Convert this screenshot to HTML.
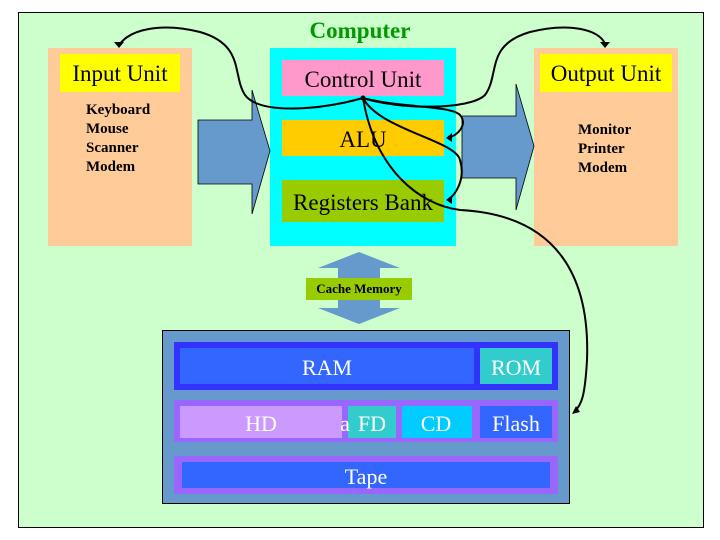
<!DOCTYPE html>
<html><head><meta charset="utf-8"><style>
body{margin:0;width:720px;height:540px;background:#fff;overflow:hidden}
svg{display:block}
text{font-family:"Liberation Serif",serif}
</style></head><body>
<svg width="720" height="540" xmlns="http://www.w3.org/2000/svg">
<rect x="18.5" y="12.5" width="685" height="515" fill="#ccffcc" stroke="#000"/>
<text x="360" y="38" font-size="23" font-weight="bold" fill="#009900" text-anchor="middle">Computer</text>
<rect x="48" y="48" width="144" height="198" fill="#ffcc99"/>
<rect x="60" y="54" width="120" height="38" fill="#ffff00"/>
<text x="120" y="81" font-size="23" text-anchor="middle">Input Unit</text>
<g font-size="15" font-weight="bold"><text x="86" y="114">Keyboard</text><text x="86" y="133">Mouse</text><text x="86" y="152">Scanner</text><text x="86" y="171">Modem</text></g>
<rect x="534" y="48" width="144" height="198" fill="#ffcc99"/>
<rect x="540" y="54" width="132" height="38" fill="#ffff00"/>
<text x="606" y="81" font-size="23" text-anchor="middle">Output Unit</text>
<g font-size="15" font-weight="bold"><text x="578" y="134">Monitor</text><text x="578" y="153">Printer</text><text x="578" y="172">Modem</text></g>
<rect x="270" y="48" width="186" height="198" fill="#00ffff"/>
<rect x="282" y="60" width="162" height="36" fill="#ff99cc"/>
<text x="363" y="87" font-size="23" text-anchor="middle">Control Unit</text>
<rect x="282" y="120" width="162" height="36" fill="#ffcc00"/>
<text x="363" y="147" font-size="23" text-anchor="middle">ALU</text>
<rect x="282" y="180" width="162" height="42" fill="#99cc00"/>
<text x="363" y="210" font-size="23" text-anchor="middle">Registers Bank</text>
<polygon points="198,120 252,120 252,90 270,151 252,214 252,184 198,184" fill="#6699cc" stroke="#000" stroke-width="0.8"/>
<polygon points="462,116 516,116 516,84 534,146 516,210 516,178 462,178" fill="#6699cc" stroke="#000" stroke-width="0.8"/>
<polygon points="359,252 400,268 380,268 380,308 400,308 359,324 318,308 338,308 338,268 318,268" fill="#6699cc"/>
<rect x="306" y="278" width="106" height="22" fill="#99cc00"/>
<text x="359" y="293" font-size="13" font-weight="bold" text-anchor="middle">Cache Memory</text>
<rect x="162.5" y="330.5" width="407" height="173" fill="#6699cc" stroke="#000"/>
<rect x="174" y="342" width="384" height="48" fill="#3333ff"/>
<rect x="180" y="348" width="294" height="36" fill="#3366ff"/>
<rect x="480" y="348" width="72" height="36" fill="#33cccc"/>
<rect x="174" y="400" width="384" height="42" fill="#9966ff"/>
<rect x="180" y="406" width="162" height="32" fill="#cc99ff"/>
<rect x="348" y="406" width="48" height="32" fill="#33cccc"/>
<rect x="402" y="406" width="70" height="32" fill="#00ccff"/>
<rect x="480" y="406" width="72" height="32" fill="#3366ff"/>
<rect x="174" y="456" width="384" height="38" fill="#9966ff"/>
<rect x="182" y="462" width="368" height="26" fill="#3366ff"/>
<g font-size="22" fill="#fff" text-anchor="middle">
<text x="327" y="375">RAM</text><text x="516" y="375">ROM</text>
<text x="261" y="431">HD</text><text x="345" y="431">a</text><text x="372" y="431">FD</text><text x="436" y="431">CD</text><text x="516" y="431">Flash</text>
<text x="366" y="484">Tape</text></g>
<g fill="none" stroke="#000" stroke-width="2">
<path d="M363,98 C320,110 260,115 245,95 C232,75 245,45 200,32 C160,22 130,30 120,44"/>
<path d="M363,98 C400,110 470,110 485,95 C500,75 485,45 530,32 C570,22 600,30 605,44"/>
<path d="M363,98 C400,108 450,105 460,115 C468,125 458,135 448,138"/>
<path d="M363,98 C380,130 455,140 460,160 C466,180 455,195 448,200"/>
<path d="M363,98 C375,170 420,205 460,210 C560,215 590,280 587,360 C585,395 582,405 574,412"/>
</g>
<g fill="#000">
<polygon points="114,42 124,42 119,48"/>
<polygon points="600,42 610,42 605,48"/>
<polygon points="446,138 452,133 452,142"/>
<polygon points="446,200 452,195 452,204"/>
<polygon points="572,414 576,406 580,412"/>
<circle cx="363" cy="98" r="2.5"/>
</g>
</svg>
</body></html>
